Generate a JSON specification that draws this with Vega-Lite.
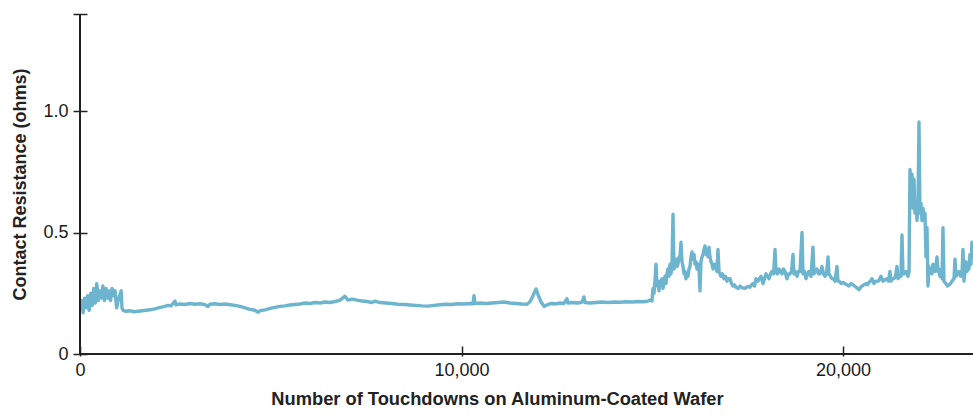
{
  "$schema": "https://vega.github.io/schema/vega-lite/v6.json",
  "width": 893,
  "height": 340,
  "autosize": "none",
  "padding": {"left": 80, "top": 14, "right": 0, "bottom": 64},
  "background": "white",
  "config": {"view": {"stroke": null}, "font": "Liberation Sans"},
  "data": {"values": [
    {"t":0,"r":0.19},{"t":40,"r":0.22},{"t":80,"r":0.17},{"t":120,"r":0.23},{"t":160,"r":0.19},{"t":200,"r":0.24},{"t":240,"r":0.18},{"t":280,"r":0.25},{"t":320,"r":0.2},{"t":360,"r":0.27},{"t":400,"r":0.21},{"t":440,"r":0.29},{"t":480,"r":0.22},{"t":520,"r":0.26},{"t":560,"r":0.23},{"t":600,"r":0.28},{"t":640,"r":0.22},{"t":680,"r":0.27},{"t":720,"r":0.23},{"t":760,"r":0.26},{"t":800,"r":0.22},{"t":840,"r":0.27},{"t":880,"r":0.24},{"t":920,"r":0.26},{"t":960,"r":0.19},{"t":1000,"r":0.22},{"t":1040,"r":0.24},{"t":1080,"r":0.26},{"t":1100,"r":0.19},
    {"t":1127,"r":0.18},{"t":1206,"r":0.176},{"t":1311,"r":0.178},{"t":1415,"r":0.174},{"t":1520,"r":0.176},{"t":1625,"r":0.178},{"t":1730,"r":0.18},{"t":1835,"r":0.182},{"t":1966,"r":0.186},{"t":2097,"r":0.192},{"t":2202,"r":0.195},{"t":2306,"r":0.2},{"t":2385,"r":0.198},{"t":2490,"r":0.218},{"t":2516,"r":0.202},{"t":2621,"r":0.206},{"t":2752,"r":0.204},{"t":2883,"r":0.208},{"t":3014,"r":0.205},{"t":3145,"r":0.207},{"t":3276,"r":0.203},{"t":3355,"r":0.196},{"t":3407,"r":0.205},{"t":3538,"r":0.207},{"t":3669,"r":0.204},{"t":3800,"r":0.206},{"t":3932,"r":0.203},{"t":4063,"r":0.2},{"t":4194,"r":0.196},{"t":4325,"r":0.19},{"t":4456,"r":0.184},{"t":4587,"r":0.18},{"t":4666,"r":0.172},{"t":4718,"r":0.178},{"t":4849,"r":0.182},{"t":4980,"r":0.188},{"t":5111,"r":0.192},{"t":5242,"r":0.196},{"t":5373,"r":0.198},{"t":5504,"r":0.202},{"t":5635,"r":0.204},{"t":5766,"r":0.206},{"t":5897,"r":0.21},{"t":6028,"r":0.208},{"t":6159,"r":0.212},{"t":6290,"r":0.21},{"t":6421,"r":0.214},{"t":6553,"r":0.212},{"t":6684,"r":0.216},{"t":6815,"r":0.222},{"t":6945,"r":0.238},{"t":7024,"r":0.222},{"t":7129,"r":0.226},{"t":7260,"r":0.222},{"t":7391,"r":0.218},{"t":7522,"r":0.216},{"t":7653,"r":0.212},{"t":7732,"r":0.218},{"t":7863,"r":0.212},{"t":8020,"r":0.21},{"t":8178,"r":0.208},{"t":8335,"r":0.205},{"t":8492,"r":0.204},{"t":8649,"r":0.202},{"t":8807,"r":0.2},{"t":8964,"r":0.198},{"t":9121,"r":0.197},{"t":9278,"r":0.2},{"t":9436,"r":0.203},{"t":9593,"r":0.205},{"t":9750,"r":0.204},{"t":9907,"r":0.207},{"t":10065,"r":0.206},{"t":10222,"r":0.208},{"t":10300,"r":0.207},{"t":10327,"r":0.24},{"t":10353,"r":0.208},{"t":10484,"r":0.21},{"t":10641,"r":0.208},{"t":10799,"r":0.21},{"t":10956,"r":0.212},{"t":11113,"r":0.214},{"t":11270,"r":0.21},{"t":11428,"r":0.208},{"t":11585,"r":0.206},{"t":11716,"r":0.205},{"t":11795,"r":0.215},{"t":11873,"r":0.24},{"t":11952,"r":0.268},{"t":12004,"r":0.245},{"t":12083,"r":0.215},{"t":12162,"r":0.196},{"t":12266,"r":0.204},{"t":12371,"r":0.208},{"t":12476,"r":0.206},{"t":12581,"r":0.21},{"t":12686,"r":0.208},{"t":12764,"r":0.228},{"t":12790,"r":0.21},{"t":12922,"r":0.212},{"t":13053,"r":0.21},{"t":13158,"r":0.214},{"t":13210,"r":0.235},{"t":13236,"r":0.212},{"t":13367,"r":0.21},{"t":13524,"r":0.212},{"t":13682,"r":0.214},{"t":13839,"r":0.212},{"t":13996,"r":0.214},{"t":14153,"r":0.213},{"t":14311,"r":0.215},{"t":14468,"r":0.214},{"t":14625,"r":0.216},{"t":14782,"r":0.215},{"t":14887,"r":0.218},
    {"t":14940,"r":0.222},{"t":14992,"r":0.218},{"t":15018,"r":0.27},{"t":15045,"r":0.25},{"t":15070,"r":0.3},{"t":15097,"r":0.37},{"t":15123,"r":0.28},{"t":15150,"r":0.3},{"t":15176,"r":0.26},{"t":15202,"r":0.3},{"t":15228,"r":0.29},{"t":15254,"r":0.31},{"t":15280,"r":0.27},{"t":15306,"r":0.3},{"t":15333,"r":0.32},{"t":15359,"r":0.29},{"t":15385,"r":0.33},{"t":15411,"r":0.35},{"t":15438,"r":0.32},{"t":15464,"r":0.37},{"t":15490,"r":0.33},{"t":15516,"r":0.36},{"t":15543,"r":0.576},{"t":15569,"r":0.35},{"t":15595,"r":0.37},{"t":15621,"r":0.39},{"t":15648,"r":0.36},{"t":15674,"r":0.37},{"t":15700,"r":0.4},{"t":15726,"r":0.4},{"t":15752,"r":0.46},{"t":15778,"r":0.38},{"t":15805,"r":0.36},{"t":15831,"r":0.33},{"t":15857,"r":0.34},{"t":15883,"r":0.31},{"t":15910,"r":0.33},{"t":15936,"r":0.32},{"t":15962,"r":0.35},{"t":15988,"r":0.36},{"t":16015,"r":0.4},{"t":16041,"r":0.42},{"t":16067,"r":0.39},{"t":16093,"r":0.41},{"t":16119,"r":0.37},{"t":16145,"r":0.38},{"t":16172,"r":0.35},{"t":16200,"r":0.37},{"t":16224,"r":0.36},{"t":16250,"r":0.26},{"t":16276,"r":0.38},{"t":16303,"r":0.4},{"t":16329,"r":0.41},{"t":16355,"r":0.43},{"t":16381,"r":0.445},{"t":16408,"r":0.41},{"t":16434,"r":0.43},{"t":16460,"r":0.4},{"t":16486,"r":0.44},{"t":16512,"r":0.4},{"t":16539,"r":0.38},{"t":16565,"r":0.37},{"t":16591,"r":0.35},{"t":16630,"r":0.37},{"t":16670,"r":0.36},{"t":16696,"r":0.34},{"t":16722,"r":0.43},{"t":16748,"r":0.34},{"t":16775,"r":0.33},{"t":16801,"r":0.32},{"t":16840,"r":0.33},{"t":16879,"r":0.31},{"t":16920,"r":0.32},{"t":16958,"r":0.3},{"t":17000,"r":0.31},{"t":17037,"r":0.31},{"t":17075,"r":0.29},{"t":17115,"r":0.28},{"t":17150,"r":0.285},{"t":17194,"r":0.275},{"t":17250,"r":0.27},{"t":17299,"r":0.28},{"t":17360,"r":0.272},{"t":17430,"r":0.27},{"t":17500,"r":0.278},{"t":17561,"r":0.275},{"t":17600,"r":0.285},{"t":17639,"r":0.29},{"t":17680,"r":0.28},{"t":17718,"r":0.31},{"t":17770,"r":0.3},{"t":17810,"r":0.31},{"t":17849,"r":0.32},{"t":17901,"r":0.29},{"t":17940,"r":0.31},{"t":17980,"r":0.33},{"t":18020,"r":0.32},{"t":18059,"r":0.31},{"t":18100,"r":0.33},{"t":18137,"r":0.34},{"t":18180,"r":0.33},{"t":18216,"r":0.43},{"t":18242,"r":0.34},{"t":18280,"r":0.33},{"t":18321,"r":0.35},{"t":18360,"r":0.34},{"t":18399,"r":0.33},{"t":18440,"r":0.35},{"t":18478,"r":0.34},{"t":18530,"r":0.31},{"t":18570,"r":0.33},{"t":18609,"r":0.33},{"t":18650,"r":0.34},{"t":18688,"r":0.41},{"t":18714,"r":0.33},{"t":18750,"r":0.34},{"t":18793,"r":0.32},{"t":18830,"r":0.34},{"t":18871,"r":0.34},{"t":18924,"r":0.5},{"t":18950,"r":0.33},{"t":18990,"r":0.34},{"t":19028,"r":0.31},{"t":19070,"r":0.33},{"t":19107,"r":0.34},{"t":19160,"r":0.32},{"t":19212,"r":0.44},{"t":19238,"r":0.33},{"t":19280,"r":0.34},{"t":19317,"r":0.35},{"t":19360,"r":0.33},{"t":19395,"r":0.33},{"t":19448,"r":0.36},{"t":19490,"r":0.33},{"t":19526,"r":0.32},{"t":19570,"r":0.33},{"t":19605,"r":0.4},{"t":19631,"r":0.33},{"t":19670,"r":0.32},{"t":19710,"r":0.31},{"t":19750,"r":0.31},{"t":19789,"r":0.3},{"t":19841,"r":0.36},{"t":19867,"r":0.3},{"t":19900,"r":0.3},{"t":19946,"r":0.29},{"t":20000,"r":0.295},{"t":20051,"r":0.29},{"t":20100,"r":0.285},{"t":20155,"r":0.28},{"t":20210,"r":0.29},{"t":20260,"r":0.285},{"t":20300,"r":0.28},{"t":20339,"r":0.275},{"t":20380,"r":0.27},{"t":20418,"r":0.265},{"t":20460,"r":0.275},{"t":20496,"r":0.28},{"t":20550,"r":0.285},{"t":20601,"r":0.29},{"t":20640,"r":0.285},{"t":20680,"r":0.295},{"t":20720,"r":0.3},{"t":20758,"r":0.31},{"t":20811,"r":0.29},{"t":20860,"r":0.3},{"t":20916,"r":0.3},{"t":20950,"r":0.305},{"t":20994,"r":0.32},{"t":21047,"r":0.3},{"t":21100,"r":0.305},{"t":21151,"r":0.31},{"t":21190,"r":0.3},{"t":21230,"r":0.34},{"t":21256,"r":0.3},{"t":21295,"r":0.31},{"t":21335,"r":0.31},{"t":21375,"r":0.32},{"t":21414,"r":0.36},{"t":21440,"r":0.31},{"t":21480,"r":0.32},{"t":21518,"r":0.32},{"t":21545,"r":0.49},{"t":21571,"r":0.33},{"t":21610,"r":0.33},{"t":21649,"r":0.34},{"t":21680,"r":0.33},{"t":21702,"r":0.32},{"t":21730,"r":0.34},{"t":21754,"r":0.76},{"t":21781,"r":0.7},{"t":21807,"r":0.74},{"t":21833,"r":0.6},{"t":21859,"r":0.72},{"t":21885,"r":0.58},{"t":21912,"r":0.62},{"t":21938,"r":0.55},{"t":21964,"r":0.6},{"t":21990,"r":0.955},{"t":22016,"r":0.58},{"t":22043,"r":0.62},{"t":22069,"r":0.55},{"t":22095,"r":0.6},{"t":22121,"r":0.56},{"t":22147,"r":0.58},{"t":22174,"r":0.4},{"t":22200,"r":0.52},{"t":22226,"r":0.28},{"t":22252,"r":0.36},{"t":22280,"r":0.34},{"t":22305,"r":0.35},{"t":22330,"r":0.33},{"t":22357,"r":0.37},{"t":22385,"r":0.35},{"t":22410,"r":0.34},{"t":22436,"r":0.36},{"t":22462,"r":0.4},{"t":22490,"r":0.34},{"t":22514,"r":0.35},{"t":22540,"r":0.32},{"t":22567,"r":0.33},{"t":22595,"r":0.31},{"t":22619,"r":0.52},{"t":22645,"r":0.3},{"t":22670,"r":0.295},{"t":22698,"r":0.29},{"t":22740,"r":0.28},{"t":22776,"r":0.285},{"t":22815,"r":0.29},{"t":22855,"r":0.3},{"t":22880,"r":0.305},{"t":22908,"r":0.31},{"t":22934,"r":0.39},{"t":22960,"r":0.32},{"t":23000,"r":0.33},{"t":23039,"r":0.34},{"t":23080,"r":0.32},{"t":23117,"r":0.33},{"t":23143,"r":0.43},{"t":23170,"r":0.3},{"t":23196,"r":0.34},{"t":23222,"r":0.38},{"t":23250,"r":0.34},{"t":23275,"r":0.36},{"t":23300,"r":0.35},{"t":23327,"r":0.41},{"t":23353,"r":0.37},{"t":23379,"r":0.46},{"t":23406,"r":0.4}
  ]},
  "layer": [
    {
      "mark": {"type": "line", "color": "#6db5cf", "strokeWidth": 3.4, "clip": true, "strokeJoin": "round"},
      "encoding": {
        "x": {
          "field": "t", "type": "quantitative",
          "scale": {"domain": [0, 23406], "nice": false, "zero": false},
          "axis": {
            "values": [0, 10000, 20000], "format": ",d", "offset": -8, "tickSize": 10,
            "domain": false, "grid": false, "labelPadding": 5, "labelFontSize": 18,
            "labelColor": "#1a1a1a", "tickColor": "#222", "tickWidth": 1.5,
            "labelFlush": false,
            "title": "Number of Touchdowns on Aluminum-Coated Wafer",
            "titleFontSize": 18.3, "titleFontWeight": "bold", "titleColor": "#222",
            "titleX": 417, "titlePadding": 11
          }
        },
        "y": {
          "field": "r", "type": "quantitative",
          "scale": {"domain": [0, 1.4], "nice": false},
          "axis": {
            "values": [0, 0.5, 1, 1.4],
            "labelExpr": "datum.value == 0 ? '0' : (datum.value > 1.3 ? '' : format(datum.value, '.1f'))",
            "offset": -7, "tickSize": 14, "domain": false, "grid": false,
            "labelPadding": 5, "labelFontSize": 18, "labelColor": "#1a1a1a",
            "tickColor": "#222", "tickWidth": 1.5, "labelFlush": false,
            "title": "Contact Resistance (ohms)", "titleFontSize": 18,
            "titleFontWeight": "bold", "titleColor": "#222", "titlePadding": 13
          }
        }
      }
    },
    {
      "mark": {"type": "rule", "color": "#222", "strokeWidth": 1.5},
      "encoding": {"x": {"datum": 0}, "y": {"datum": 0}, "y2": {"datum": 1.4}}
    },
    {
      "mark": {"type": "rule", "color": "#222", "strokeWidth": 1.5},
      "encoding": {"y": {"datum": 0}, "x": {"datum": 0}, "x2": {"datum": 23406}}
    }
  ]
}
